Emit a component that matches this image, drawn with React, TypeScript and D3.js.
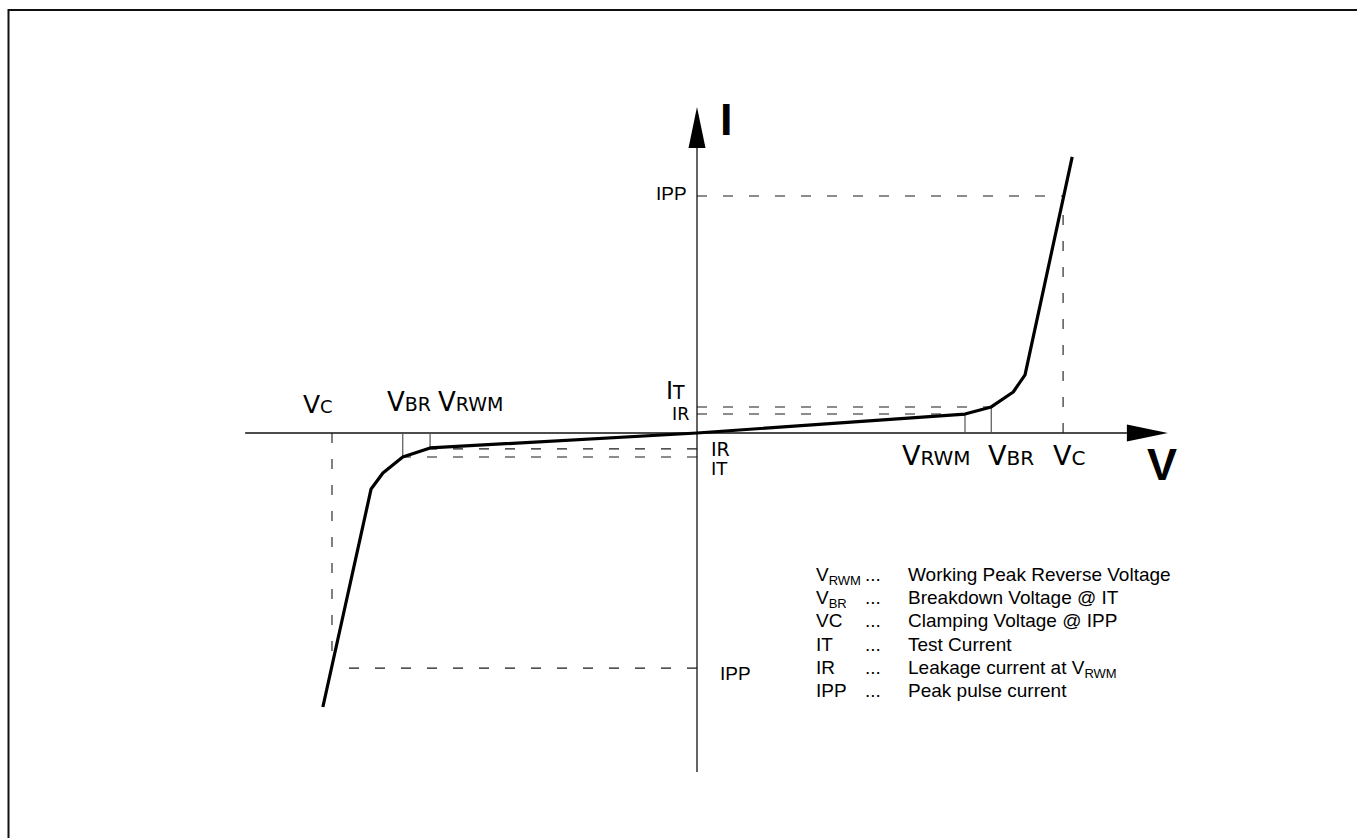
import React from "react";
import * as d3 from "d3";

// Characteristic curve of a bidirectional TVS diode (arbitrary units)
const curveV = [-6.98, -6.08, -5.86, -5.49, -4.98, 0, 5.0, 5.49, 5.9, 6.12, 7.0];
const curveI = [-11.56, -2.36, -1.69, -1.01, -0.63, 0, 0.8, 1.1, 1.73, 2.45, 11.65];

// Marker voltages (positive / negative branch)
const posV = { VRWM: 5.0, VBR: 5.49, VC: 6.83 };
const negV = { VRWM: -4.98, VBR: -5.49, VC: -6.81 };
// Marker currents
const posI = { IR: 0.8, IT: 1.1, IPP: 10 };
const negI = { IR: -0.67, IT: -1.01, IPP: -9.92 };

// Axis extents
const axisV = [-8.43, 8.02];
const axisI = [-14.3, 12.03];

// Legend
const legendSymbols = [
  { main: "V", sub: "RWM" },
  { main: "V", sub: "BR" },
  { main: "VC", sub: "" },
  { main: "IT", sub: "" },
  { main: "IR", sub: "" },
  { main: "IPP", sub: "" },
];
const legendTexts = [
  "Working Peak Reverse Voltage",
  "Breakdown Voltage @ IT",
  "Clamping Voltage @ IPP",
  "Test Current",
  "Leakage current at ",
  "Peak pulse current",
];

export default function App() {
  const x = d3.scaleLinear().domain([0, 10]).range([697, 697 + 536]);
  const y = d3.scaleLinear().domain([0, 10]).range([433, 433 - 237]);
  const x0 = x(0);
  const y0 = y(0);

  const pts: [number, number][] = curveV.map((v, i) => [x(v), y(curveI[i])]);
  const line = d3.line<[number, number]>()(pts) || "";

  const dash = "10,16";
  const dc = "#1a1a1a";
  const tc = "#555";
  const verd = "DejaVu Sans, Verdana, sans-serif";
  const arial = "Liberation Sans, Arial, sans-serif";

  const xEnd = x(axisV[1]);
  const yTop = y(axisI[1]);

  return (
    <svg
      width={1357}
      height={838}
      style={{ position: "absolute", left: 0, top: 0, display: "block", background: "#fff" }}
    >
      <rect x={8.5} y={10} width={2000} height={2000} fill="none" stroke="#111" strokeWidth={2} />

      {/* axes */}
      <line x1={x(axisV[0])} y1={y0} x2={xEnd} y2={y0} stroke="#111" strokeWidth={1.3} />
      <polygon points={`${xEnd},${y0 - 8.5} ${xEnd + 41},${y0} ${xEnd},${y0 + 8.5}`} fill="#000" />
      <line x1={x0} y1={y(axisI[0])} x2={x0} y2={yTop} stroke="#111" strokeWidth={1.3} />
      <polygon points={`${x0 - 8.5},${yTop} ${x0},${yTop - 41} ${x0 + 8.5},${yTop}`} fill="#000" />

      <text x={720} y={135} fontFamily={arial} fontWeight="bold" fontSize={45}>I</text>
      <text x={1147} y={480} fontFamily={arial} fontWeight="bold" fontSize={45}>V</text>

      {/* dashed guide lines, positive side */}
      <line x1={x0} y1={y(posI.IPP)} x2={x(posV.VC)} y2={y(posI.IPP)} stroke={dc} strokeWidth={1.1} strokeDasharray={dash} />
      <line x1={x(posV.VC)} y1={y0} x2={x(posV.VC)} y2={y(posI.IPP)} stroke={dc} strokeWidth={1.1} strokeDasharray={dash} />
      <line x1={x0} y1={y(posI.IT)} x2={x(posV.VBR)} y2={y(posI.IT)} stroke={dc} strokeWidth={1.1} strokeDasharray={dash} />
      <line x1={x0} y1={y(posI.IR)} x2={x(posV.VRWM)} y2={y(posI.IR)} stroke={dc} strokeWidth={1.1} strokeDasharray={dash} />
      <line x1={x(posV.VRWM)} y1={y0} x2={x(posV.VRWM)} y2={y(posI.IR)} stroke={tc} strokeWidth={1.2} />
      <line x1={x(posV.VBR)} y1={y0} x2={x(posV.VBR)} y2={y(posI.IT)} stroke={tc} strokeWidth={1.2} />

      {/* dashed guide lines, negative side */}
      <line x1={x0} y1={y(negI.IPP)} x2={x(negV.VC)} y2={y(negI.IPP)} stroke={dc} strokeWidth={1.1} strokeDasharray={dash} />
      <line x1={x(negV.VC)} y1={y0} x2={x(negV.VC)} y2={y(negI.IPP)} stroke={dc} strokeWidth={1.1} strokeDasharray={dash} />
      <line x1={x0} y1={y(negI.IT)} x2={x(negV.VBR)} y2={y(negI.IT)} stroke={dc} strokeWidth={1.1} strokeDasharray={dash} />
      <line x1={x0} y1={y(negI.IR)} x2={x(negV.VRWM)} y2={y(negI.IR)} stroke={dc} strokeWidth={1.1} strokeDasharray={dash} />
      <line x1={x(negV.VRWM)} y1={y0} x2={x(negV.VRWM)} y2={y(negI.IR) - 1} stroke={tc} strokeWidth={1.2} />
      <line x1={x(negV.VBR)} y1={y0} x2={x(negV.VBR)} y2={y(negI.IT)} stroke={tc} strokeWidth={1.2} />

      {/* curve */}
      <path d={line} fill="none" stroke="#000" strokeWidth={3.2} strokeLinejoin="round" />

      {/* labels negative side */}
      <text x={303} y={413} fontFamily={verd}>
        <tspan fontSize={25}>V</tspan><tspan fontSize={18}>C</tspan>
      </text>
      <text x={387} y={411} fontFamily={verd}>
        <tspan fontSize={26}>V</tspan><tspan fontSize={19}>BR</tspan>
      </text>
      <text x={438} y={411} fontFamily={verd}>
        <tspan fontSize={26}>V</tspan><tspan fontSize={19}>RWM</tspan>
      </text>

      {/* labels positive side */}
      <text x={902} y={465} fontFamily={verd}>
        <tspan fontSize={27}>V</tspan><tspan fontSize={20}>RWM</tspan>
      </text>
      <text x={988} y={465} fontFamily={verd}>
        <tspan fontSize={27}>V</tspan><tspan fontSize={20}>BR</tspan>
      </text>
      <text x={1053} y={465} fontFamily={verd}>
        <tspan fontSize={27}>V</tspan><tspan fontSize={20}>C</tspan>
      </text>

      {/* current labels */}
      <text x={666} y={399} fontFamily={verd}>
        <tspan fontSize={24}>I</tspan><tspan fontSize={19}>T</tspan>
      </text>
      <text x={672} y={420} fontFamily={verd} fontSize={17.5}>IR</text>
      <text x={711} y={456} fontFamily={verd} fontSize={19}>IR</text>
      <text x={711} y={475} fontFamily={verd} fontSize={18}>IT</text>
      <text x={656} y={200} fontFamily={arial} fontSize={19}>IPP</text>
      <text x={720} y={680} fontFamily={arial} fontSize={19}>IPP</text>

      {/* legend */}
      {legendSymbols.map((s, i) => {
        const by = 581 + i * 23.2;
        return (
          <g key={i} fontFamily={arial}>
            <text x={816} y={by} fontSize={19}>
              {s.main}
              {s.sub ? <tspan fontSize={13} dy={4}>{s.sub}</tspan> : null}
            </text>
            <text x={865} y={by} fontSize={19}>...</text>
            <text x={908} y={by} fontSize={19}>
              {legendTexts[i]}
              {i === 4 ? (
                <>
                  <tspan>V</tspan>
                  <tspan fontSize={13} dy={4}>RWM</tspan>
                </>
              ) : null}
            </text>
          </g>
        );
      })}
    </svg>
  );
}
